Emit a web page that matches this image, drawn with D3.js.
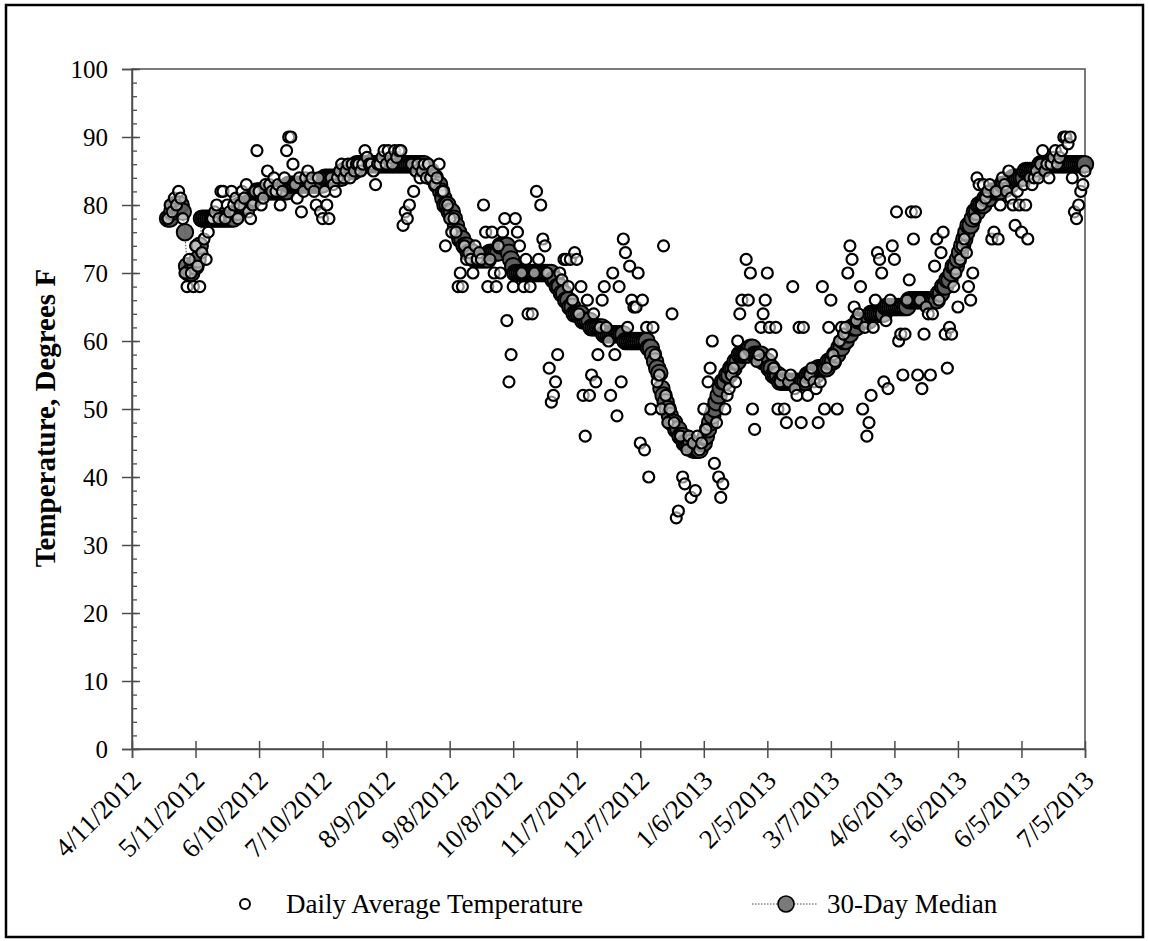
<!DOCTYPE html>
<html><head><meta charset="utf-8">
<script src="https://cdn.jsdelivr.net/npm/d3@7"></script>
<style>
body{margin:0;background:#fff}
svg text{font-family:"Liberation Serif","Times New Roman",serif;fill:#000}
</style></head>
<body><svg id="c" width="1149" height="941"></svg>
<script>
const startDate = "4/28/2012";
const tickLabels = ["4/11/2012","5/11/2012","6/10/2012","7/10/2012","8/9/2012","9/8/2012","10/8/2012","11/7/2012","12/7/2012","1/6/2013","2/5/2013","3/7/2013","4/6/2013","5/6/2013","6/5/2013","7/5/2013"];
const yTicks = [0,10,20,30,40,50,60,70,80,90,100];
const yMinorTicks = d3.range(0, 101, 2);
const seriesNames = ["Daily Average Temperature","30-Day Median"];
const yTitle = "Temperature, Degrees F";

// Daily average temperature, one value per day starting 4/28/2012
const dailyTemp = [
78,80,79,81,80,82,81,78,70,68,
72,70,68,74,71,68,73,75,72,76,
78,78,79,80,78,82,82,78,80,79,
82,80,81,78,80,82,81,83,79,78,
80,82,88,82,80,81,83,85,83,82,
84,82,83,80,82,84,88,90,90,86,
83,81,84,79,82,84,85,83,84,82,
80,84,79,78,82,80,78,84,83,82,
84,85,86,84,85,86,84,86,85,86,
86,85,86,88,87,86,86,85,83,86,
86,87,88,86,88,87,86,88,87,88,
88,77,79,78,80,86,82,85,86,84,
85,86,84,86,84,85,83,84,86,82,
82,74,80,78,76,78,76,68,70,68,
74,72,73,72,70,74,72,73,72,80,
76,68,72,76,70,68,74,70,76,78,
63,54,58,68,78,76,74,70,68,72,
64,68,64,70,82,72,80,75,74,70,
56,51,52,54,58,70,69,72,72,68,
72,66,73,72,64,68,52,46,66,52,
55,64,54,58,62,66,68,62,60,52,
70,58,49,68,54,75,73,62,71,66,
65,65,70,45,66,44,62,40,50,62,
58,54,55,50,74,52,48,50,64,48,
34,35,46,40,39,44,46,37,45,38,
46,44,45,50,47,54,56,60,42,48,
40,37,39,50,52,53,55,56,54,60,
64,66,58,72,66,70,50,47,57,58,
62,64,66,70,62,58,56,62,50,54,
55,50,48,54,55,68,53,52,62,48,
62,54,52,55,56,54,53,48,54,68,
50,56,62,66,58,57,50,60,62,61,
62,70,74,72,65,63,64,68,50,62,
46,48,52,62,66,73,72,70,54,63,
53,66,74,72,79,60,61,55,61,66,
69,79,75,79,55,66,53,61,65,64,
55,64,71,75,66,73,76,61,56,62,
61,68,70,65,72,74,75,73,68,66,
70,78,84,83,80,83,81,82,83,75,
76,82,75,80,84,83,82,85,81,80,
77,82,80,76,83,80,75,84,83,84,
85,84,86,88,85,86,84,86,87,88,
86,87,88,90,90,89,90,84,79,78,
80,82,83,85
];

// 30-day median, same days
const median30 = [
78,78,79,80,80,80,80,79,76,71,
70,70,71,71,72,74,78,78,78,78,
78,78,78,78,78,78,78,78,78,78,
78,78,79,79,80,80,80,80,81,81,
81,81,82,82,82,82,82,82,82,82,
82,82,82,82,82,82,82,83,83,83,
83,83,83,83,83,83,83,83,83,83,
83,83,83,83,84,84,84,84,84,84,
84,84,84,85,85,85,85,85,85,86,
86,86,86,86,86,86,86,86,86,86,
86,86,86,86,86,86,86,86,86,86,
86,86,86,86,86,86,86,86,86,86,
86,86,85,85,85,84,84,83,83,82,
81,80,80,79,79,78,77,76,75,75,
74,74,73,73,73,72,72,72,72,72,
72,72,73,73,73,73,73,74,74,74,
74,73,72,71,70,70,70,70,70,70,
70,70,70,70,70,70,70,70,70,70,
70,70,69,69,68,68,67,67,66,66,
65,65,64,64,64,64,63,63,63,63,
62,62,62,62,62,62,61,61,61,61,
61,61,61,61,61,61,60,60,60,60,
60,60,60,60,60,60,60,59,59,58,
57,56,55.3,53,52,51,50,49,48,48,
47,47,46,46,45,45,45,45,44,44,
44,44,45,45,46,47,48,49,50,51,
52,53,54,54,55,55,56,56,57,57,
58,58,58,58,58,59,59,58,58,58,
58,57,57,57,56,56,55,55,55,54,
54,54,54,54,54,54,54,54,54,54,
54,54,55,55,55,55,55,56,56,56,
56,56,57,57,57,58,58,59,59,60,
60,61,61,62,62,62,63,63,63,63,
63,63,64,64,64,64,64,64,64,65,
65,65,65,65,65,65,65,65,65,65,
66,66,66,66,66,66,66,66,66,66,
66,66,66,66,67,67,68,68,69,69,
70,71,71,72,73,74,75,76,77,77,
78,79,79,80,80,80,81,81,81,82,
82,82,82,82,83,83,83,83,83,84,
84,84,84,84,84,85,85,85,85,85,
85,85,86,86,86,86,86,86,86,86,
86,86,86,86,86,86,86,86,86,86,
86,86,86,86
];

const svg = d3.select("#c");
svg.append("rect").attr("x",6).attr("y",5).attr("width",1137).attr("height",932)
  .attr("fill","#fff").attr("stroke","#000").attr("stroke-width",2.5);

const parse = d3.utcParse("%m/%d/%Y");
const tickDates = tickLabels.map(parse);
const x = d3.scaleUtc().domain([tickDates[0], tickDates[tickDates.length-1]]).range([132,1085]);
const y = d3.scaleLinear().domain([0,100]).range([749,69]);
const start = parse(startDate);
const daily = dailyTemp.map((v,i)=>({date:d3.utcDay.offset(start,i), v}));
const med = median30.map((v,i)=>({date:d3.utcDay.offset(start,i), v}));

const axisColor = "#4d4d4d";
// plot frame
svg.append("rect").attr("x",x.range()[0]).attr("y",y(100)).attr("width",x.range()[1]-x.range()[0])
  .attr("height",y(0)-y(100)).attr("fill","none").attr("stroke",axisColor).attr("stroke-width",1.5);

// Y minor ticks
const yMinor = svg.append("g").attr("transform",`translate(${x.range()[0]},0)`)
  .call(d3.axisRight(y).tickValues(yMinorTicks).tickSize(5).tickFormat(""));
yMinor.select(".domain").remove();
yMinor.selectAll("line").attr("stroke",axisColor).attr("stroke-width",1.3);

// Y axis
const yAx = svg.append("g").attr("transform",`translate(${x.range()[0]},0)`)
  .call(d3.axisLeft(y).tickValues(yTicks).tickSize(10).tickPadding(14));
yAx.select(".domain").attr("stroke",axisColor).attr("stroke-width",1.5);
yAx.selectAll(".tick line").attr("x1",8).attr("x2",-10).attr("stroke",axisColor).attr("stroke-width",1.5);
yAx.selectAll(".tick text").attr("font-size",25).attr("font-family","Liberation Serif, serif").attr("fill","#000");

// X axis
const xAx = svg.append("g").attr("transform",`translate(0,${y(0)})`)
  .call(d3.axisBottom(x).tickValues(tickDates).tickFormat((d,i)=>tickLabels[i]).tickSize(9));
xAx.select(".domain").attr("stroke",axisColor).attr("stroke-width",1.5);
xAx.selectAll(".tick line").attr("y1",-8).attr("y2",9).attr("stroke",axisColor).attr("stroke-width",1.5);
xAx.selectAll(".tick text").attr("font-size",27).attr("font-family","Liberation Serif, serif").attr("fill","#000")
  .attr("text-anchor","end").attr("dy",0).attr("y",0)
  .attr("transform","translate(10,33) rotate(-45)");

// Median line + markers (drawn first)
svg.append("path").datum(med)
  .attr("d",d3.line().x(d=>x(d.date)).y(d=>y(d.v)))
  .attr("fill","none").attr("stroke","#404040").attr("stroke-width",1).attr("stroke-dasharray","1.5,1.5");
svg.append("g").selectAll("circle").data(med).join("circle")
  .attr("cx",d=>x(d.date)).attr("cy",d=>y(d.v)).attr("r",8.2)
  .attr("fill","#5e5e5e").attr("fill-opacity",0.9).attr("stroke","#000").attr("stroke-width",2);

// Daily points on top
svg.append("g").selectAll("circle").data(daily).join("circle")
  .attr("cx",d=>x(d.date)).attr("cy",d=>y(d.v)).attr("r",5.5)
  .attr("fill","#fff").attr("fill-opacity",0.55).attr("stroke","#000").attr("stroke-width",2.2);

// Y title
svg.append("text").attr("transform","translate(55,418) rotate(-90)")
  .attr("text-anchor","middle").attr("font-size",29).attr("font-weight","bold").text(yTitle);

// Legend
const lg = svg.append("g");
lg.append("circle").attr("cx",245).attr("cy",904).attr("r",5).attr("fill","#fff").attr("stroke","#000").attr("stroke-width",2);
lg.append("text").attr("x",286).attr("y",913).attr("font-size",27).text(seriesNames[0]);
lg.append("line").attr("x1",752).attr("x2",818).attr("y1",904).attr("y2",904)
  .attr("stroke","#404040").attr("stroke-width",1).attr("stroke-dasharray","1.5,1.5");
lg.append("circle").attr("cx",786).attr("cy",904).attr("r",8).attr("fill","#7a7a7a").attr("stroke","#000").attr("stroke-width",1.6);
lg.append("text").attr("x",827).attr("y",913).attr("font-size",27).text(seriesNames[1]);
</script></body></html>
